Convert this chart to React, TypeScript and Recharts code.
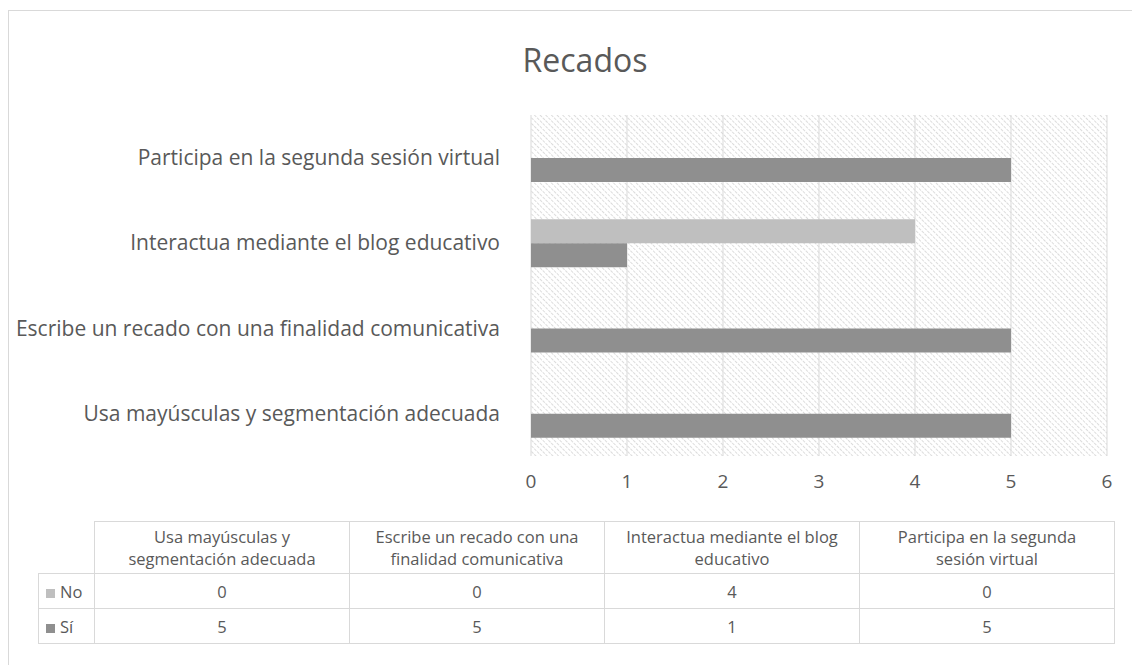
import React from 'react';
import { BarChart, Bar, XAxis, YAxis, CartesianGrid } from 'recharts';

const categories = [
  'Usa mayúsculas y segmentación adecuada',
  'Escribe un recado con una finalidad comunicativa',
  'Interactua mediante el blog educativo',
  'Participa en la segunda sesión virtual',
];
const tableHeaders = [
  ['Usa mayúsculas y', 'segmentación adecuada'],
  ['Escribe un recado con una', 'finalidad comunicativa'],
  ['Interactua mediante el blog', 'educativo'],
  ['Participa en la segunda', 'sesión virtual'],
];
const noValues = [0, 0, 4, 0];
const siValues = [5, 5, 1, 5];
const xTicks = [0, 1, 2, 3, 4, 5, 6];

const series = [
  { key: 'no', name: 'No', values: noValues, color: '#bfbfbf' },
  { key: 'si', name: 'Sí', values: siValues, color: '#8f8f8f' },
];

const data = categories.map((name, i) => ({ name, no: noValues[i], si: siValues[i] }));

const FONT = '"Open Sans", sans-serif';
const TEXT = '#595959';
const LINE = '#d9d9d9';

const cell: React.CSSProperties = {
  border: `1px solid ${LINE}`,
  textAlign: 'center',
  padding: 0,
  color: TEXT,
};

export default function App() {
  return (
    <div style={{ position: 'absolute', left: 0, top: 0, width: 1132, height: 665, overflow: 'hidden', background: '#fff', fontFamily: FONT }}>
      <div style={{ position: 'absolute', left: 8, top: 10, width: 1200, height: 700, border: `1px solid ${LINE}`, boxSizing: 'border-box' }} />
      <div style={{ position: 'absolute', left: 8, top: 40, width: 1154, textAlign: 'center', fontSize: 32, lineHeight: '40px', color: TEXT }}>
        Recados
      </div>
      <div style={{ position: 'absolute', left: 0, top: 0 }}>
        <BarChart
          width={1132}
          height={500}
          layout="vertical"
          data={data}
          margin={{ top: 115, right: 25, bottom: 0, left: 0 }}
          barSize={24}
          barGap={0}
        >
          <defs>
            <pattern id="hatch" width="4" height="4" patternUnits="userSpaceOnUse" patternTransform="rotate(-45)">
              <line x1="0" y1="0" x2="0" y2="4" stroke="#d4d4d4" strokeWidth="1.6" strokeDasharray="2 1" />
            </pattern>
          </defs>
          <CartesianGrid horizontal={false} stroke={LINE} fill="url(#hatch)" fillOpacity={1} />
          <XAxis
            type="number"
            domain={[0, 6]}
            ticks={xTicks}
            axisLine={false}
            tickLine={false}
            tickSize={0}
            tickMargin={19}
            height={44}
            tick={{ fill: TEXT, fontSize: 19, fontFamily: FONT }}
          />
          <YAxis
            type="category"
            dataKey="name"
            reversed
            width={531}
            axisLine={false}
            tickLine={false}
            tickSize={0}
            tickMargin={31}
            interval={0}
            tick={{ fill: TEXT, fontSize: 21, fontFamily: FONT }}
          />
          {series.map((s) => (
            <Bar key={s.key} dataKey={s.key} name={s.name} fill={s.color} isAnimationActive={false} />
          ))}
        </BarChart>
      </div>
      <table
        style={{
          position: 'absolute',
          left: 38,
          top: 521,
          borderCollapse: 'collapse',
          fontSize: 16.5,
          fontFamily: FONT,
          tableLayout: 'fixed',
        }}
      >
        <colgroup>
          <col style={{ width: 56 }} />
          {categories.map((c) => (
            <col key={c} style={{ width: 255 }} />
          ))}
        </colgroup>
        <tbody>
          <tr style={{ height: 52 }}>
            <td style={{ border: 'none' }} />
            {tableHeaders.map((lines, i) => (
              <td key={i} style={{ ...cell, lineHeight: '22px' }}>
                {lines[0]}
                <br />
                {lines[1]}
              </td>
            ))}
          </tr>
          {series.map((s) => (
            <tr key={s.key} style={{ height: 35 }}>
              <td style={{ ...cell, textAlign: 'left', paddingLeft: 7, whiteSpace: 'nowrap' }}>
                <span style={{ display: 'inline-block', width: 9, height: 9, background: s.color, marginRight: 5 }} />
                {s.name}
              </td>
              {s.values.map((v, i) => (
                <td key={i} style={cell}>
                  {v}
                </td>
              ))}
            </tr>
          ))}
        </tbody>
      </table>
    </div>
  );
}
